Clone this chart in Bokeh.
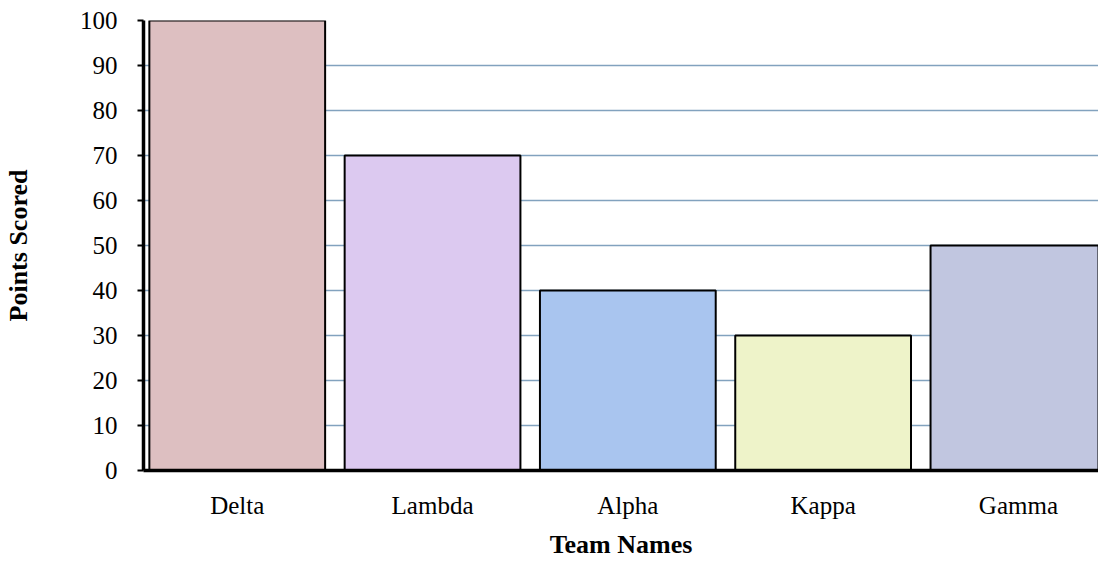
from bokeh.plotting import figure
from bokeh.models import Range1d, FixedTicker, ColumnDataSource
from bokeh.embed import file_html
from bokeh.resources import INLINE

teams = ["Delta", "Lambda", "Alpha", "Kappa", "Gamma"]
points = [100, 70, 40, 30, 50]
colors = ["#DDBFC1", "#DCC9F0", "#A9C5EF", "#EEF3C9", "#C1C6E0"]
y_ticks = [0, 10, 20, 30, 40, 50, 60, 70, 80, 90, 100]

xs = list(range(len(teams)))
src = ColumnDataSource(dict(x=xs, top=points, color=colors, name=teams))

p = figure(width=1098, height=565, output_backend="svg", toolbar_location=None,
           x_range=Range1d(-0.48, 4.41), y_range=Range1d(0, 100),
           min_border_left=143, min_border_right=0, min_border_top=20, min_border_bottom=95)
p.outline_line_color = None
p.background_fill_color = "white"
p.border_fill_color = "white"

p.vbar(x="x", top="top", bottom=0, width=0.9, fill_color="color", line_color="black",
       line_width=2, source=src)

font = "Liberation Serif"
p.xaxis.ticker = FixedTicker(ticks=xs)
p.xaxis.major_label_overrides = {i: t for i, t in enumerate(teams)}
p.yaxis.ticker = FixedTicker(ticks=y_ticks)
for ax in (p.xaxis[0], p.yaxis[0]):
    ax.major_label_text_font = font
    ax.major_label_text_font_size = "25px"
    ax.major_label_text_color = "black"
    ax.axis_label_text_font = font
    ax.axis_label_text_font_style = "bold"
    ax.axis_label_text_font_size = "26px"
    ax.axis_label_text_color = "black"
    ax.axis_line_color = "black"
    ax.minor_tick_line_color = None

p.xaxis.axis_label = "Team Names"
p.yaxis.axis_label = "Points Scored"
p.xaxis.axis_line_width = 3.5
p.yaxis.axis_line_width = 3.5
p.xaxis.major_tick_line_color = None
p.xaxis.major_tick_out = 0
p.xaxis.major_tick_in = 0
p.xaxis.major_label_standoff = 21
p.xaxis.axis_label_standoff = 8
p.yaxis.major_tick_in = 0
p.yaxis.major_tick_out = 6
p.yaxis.major_tick_line_width = 2
p.yaxis.major_tick_line_color = "black"
p.yaxis.major_label_standoff = 20
p.yaxis.axis_label_standoff = 44

p.xgrid.grid_line_color = None
p.ygrid.grid_line_color = "#82A2BE"
p.ygrid.grid_line_width = 1.5

open("out.html", "w").write(file_html(p, INLINE))
